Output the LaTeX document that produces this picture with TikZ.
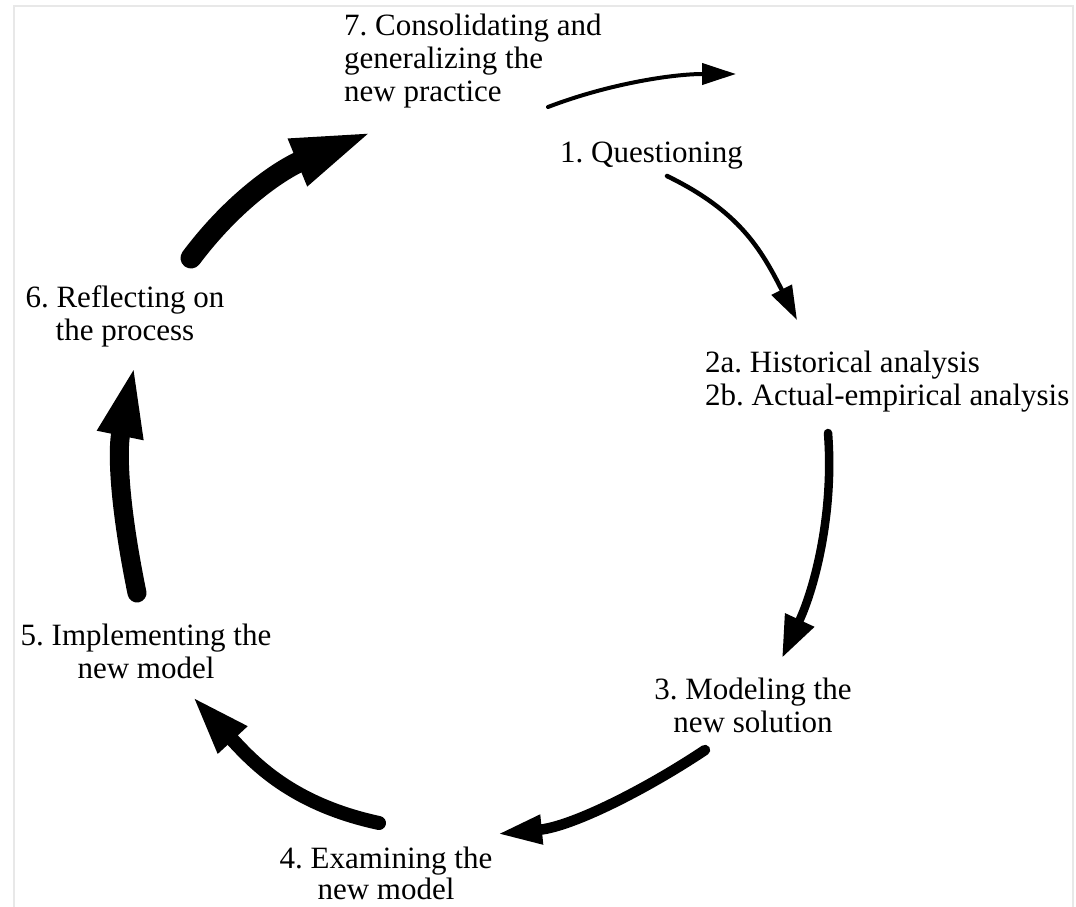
\documentclass[tikz,border=0pt]{standalone}
\usepackage{fontspec}
\setmainfont{Liberation Serif}
\usetikzlibrary{arrows.meta}
\begin{document}
\begin{tikzpicture}[x=1pt,y=-1pt,
  lbl/.style={inner sep=0pt, font=\fontsize{31}{33}\selectfont\frenchspacing},
  cyc/.style={draw=black, line cap=round},
  frameline/.style={draw=black!9, line width=1.2pt}]
\useasboundingbox (0,0) rectangle (1076,906);
\draw[frameline] (14,912) -- (14,6) -- (1073,6) -- (1073,912);

% labels
\node[lbl, anchor=north west, align=left] (s7) at (344,11.9)
  {\strut 7. Consolidating and\\generalizing the\\new practice};
\node[lbl, anchor=north west] (s1) at (560,138.9) {\strut 1. Questioning};
\node[lbl, anchor=north west, align=left] (s2) at (705,348.9)
  {\strut 2a. Historical analysis\\2b. Actual-empirical analysis};
\node[lbl, anchor=north, align=center] (s3) at (753,675.9)
  {\strut 3. Modeling the\\new solution};
\node[lbl, anchor=north, align=center, font=\fontsize{31}{30.5}\selectfont\frenchspacing] (s4) at (386,846.6)
  {\strut 4. Examining the\\new model};
\node[lbl, anchor=north, align=center] (s5) at (146,621.9)
  {\strut 5. Implementing the\\new model};
\node[lbl, anchor=north, align=center] (s6) at (125,283.9)
  {\strut 6. Reflecting on\\the process};

% arrow end points
\coordinate (a71s) at (548,107); \coordinate (a71t) at (736,74);
\coordinate (a12s) at (667,176); \coordinate (a12t) at (797,320);
\coordinate (a23s) at (828,433); \coordinate (a23t) at (782,658);
\coordinate (a34s) at (705,750); \coordinate (a34t) at (497,834);
\coordinate (a45s) at (379,823); \coordinate (a45t) at (192,696);
\coordinate (a56s) at (137,593); \coordinate (a56t) at (135,363);
\coordinate (a67s) at (191,258); \coordinate (a67t) at (377,130);

% arrows
\draw[cyc, line width=4pt, -{Triangle[length=34pt,width=21pt]}]
  (a71s) .. controls +(60,-23) and +(-64,0) .. (a71t);
\draw[cyc, line width=4.5pt, -{Triangle[length=34pt,width=22pt]}]
  (a12s) .. controls +(72,35) and +(-36,-71) .. (a12t);
\draw[cyc, line width=8.5pt, -{Triangle[length=42pt,width=30pt]}]
  (a23s) .. controls +(6,77) and +(34,-73) .. (a23t);
\draw[cyc, line width=10.5pt, -{Triangle[length=45pt,width=27pt]}]
  (a34s) .. controls +(-60,40) and +(75,-7.5) .. (a34t);
\draw[cyc, line width=14pt, -{Triangle[length=60pt,width=36pt]}]
  (a45s) .. controls +(-88,-19) and +(61,66) .. (a45t);
\draw[cyc, line width=19pt, -{Triangle[length=74pt,width=41pt]}]
  (a56s) .. controls +(-18,-88) and +(-18,88) .. (a56t);
\draw[cyc, line width=21pt, -{Triangle[length=86pt,width=44pt]}]
  (a67s) .. controls +(45,-60) and +(-93,38) .. (a67t);
\end{tikzpicture}
\end{document}
